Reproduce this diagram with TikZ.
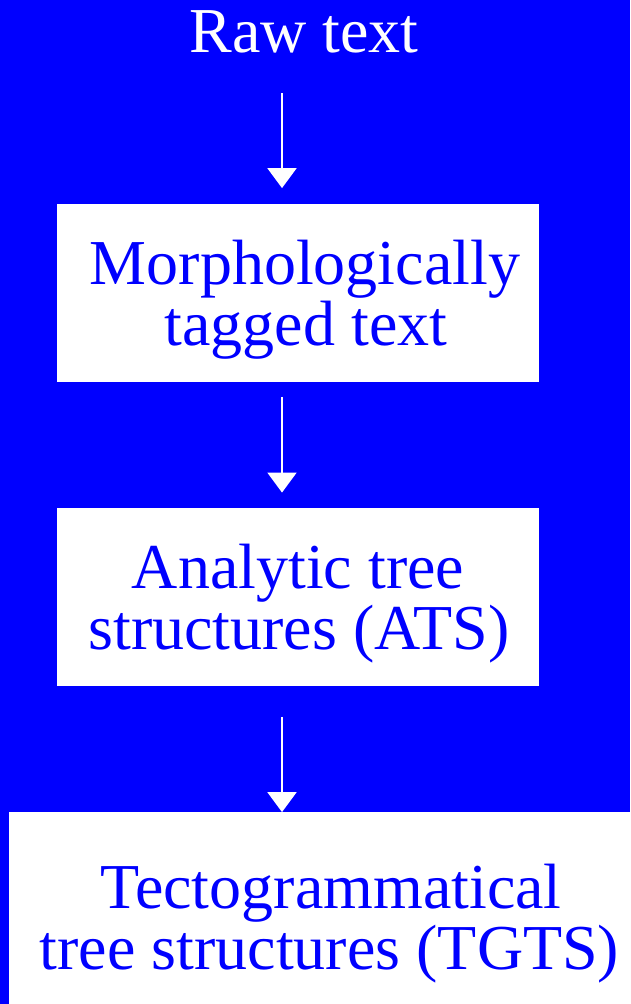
\documentclass[tikz,border=0pt]{standalone}
\usepackage{fontspec}
\setmainfont{Liberation Serif}
\usetikzlibrary{arrows.meta,calc}
\definecolor{bg}{RGB}{0,0,255}
\begin{document}
\begin{tikzpicture}[x=1pt,y=-1pt,
  boxstyle/.style={fill=white,draw=none,inner sep=0pt,anchor=center},
  txt/.style={anchor=base,inner sep=0pt,text=bg,font=\fontsize{64}{61}\selectfont},
  rawstyle/.style={anchor=base,inner sep=0pt,text=white,font=\fontsize{64}{61}\selectfont},
  arr/.style={draw=white,line width=2pt,-{Triangle[length=20pt,width=29pt]}}]
\useasboundingbox (0,0) rectangle (630,1004);
\fill[bg] (0,0) rectangle (630,1004);
\node[rawstyle] (raw) at (304,52.7) {Raw text};
\node[boxstyle,minimum width=482pt,minimum height=178pt] (b1) at (298.3,293.3) {};
\node[txt] (t1a) at (305,284.3) {Morphologically};
\node[txt] (t1b) at (306,345.7) {tagged text};
\node[boxstyle,minimum width=482pt,minimum height=177.7pt] (b2) at (298.3,597.2) {};
\node[txt] (t2a) at (298,588.3) {Analytic tree};
\node[txt] (t2b) at (299,649) {structures (ATS)};
\node[boxstyle,minimum width=645.7pt,minimum height=198pt] (b3) at (332.2,911.3) {};
\node[txt] (t3a) at (331,908.3) {Tectogrammatical};
\node[txt] (t3b) at (329.5,969.5) {tree structures (TGTS)};
\draw[arr] ($(raw.base)+(-22,40.3)$) -- ($(b1.north)+(-16.3,-16)$);
\draw[arr] ($(b1.south)+(-16.3,14.4)$) -- ($(b2.north)+(-16.3,-15.6)$);
\draw[arr] ($(b2.south)+(-16.3,30.7)$) -- ($(b3.north)+(-50.2,0)$);
\end{tikzpicture}
\end{document}
